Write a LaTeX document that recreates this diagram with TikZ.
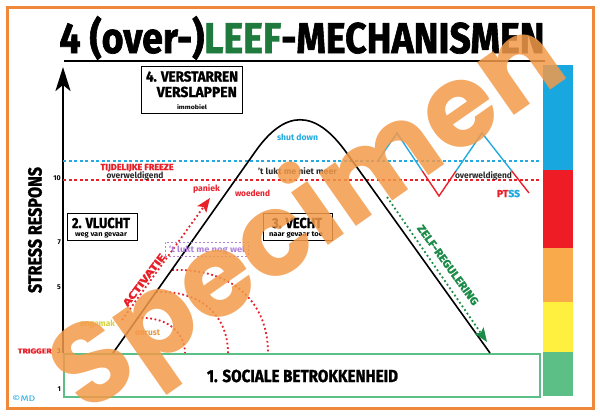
\documentclass[tikz,border=0pt]{standalone}
\usepackage{fontspec}
\setmainfont{Fira Sans}
\newfontfamily\heavy{Fira Sans}[FakeBold=1.6]
\newfontfamily\wmfont{Poppins}
\usetikzlibrary{arrows.meta}
\definecolor{bord}{HTML}{F0883A}
\definecolor{leef}{HTML}{1E7B3D}
\definecolor{rd}{HTML}{E8202A}
\definecolor{cy}{HTML}{22AAE1}
\definecolor{gr}{HTML}{1B8C47}
\definecolor{gbox}{HTML}{5BBF86}
\definecolor{pur}{HTML}{B084D6}
\definecolor{yel}{HTML}{D8D23C}
\definecolor{orn}{HTML}{E8963C}
\definecolor{wmc}{HTML}{F39A4A}
\definecolor{dk}{HTML}{2A2A2A}
\definecolor{barb}{HTML}{19A7E0}
\definecolor{barr}{HTML}{EE1C25}
\definecolor{baro}{HTML}{F9AA4B}
\definecolor{bary}{HTML}{FFEF3F}
\definecolor{barg}{HTML}{5BBF86}
\newsavebox\fitbox
\newcommand\fitw[2]{\sbox\fitbox{#2}\scalebox{\fpeval{#1/\the\wd\fitbox}}[1]{\usebox\fitbox}}
\newcommand\fs[1]{\fontsize{#1}{#1}\selectfont}
\tikzset{
  lbl/.style={inner sep=0pt, anchor=base, font=\bfseries},
  hv/.style={inner sep=0pt, anchor=base, font=\heavy\bfseries},
  frame/.style={draw, line width=1.3pt, inner sep=0pt},
  hdash/.style={line width=1.2pt, dash pattern=on 3pt off 2.5pt},
  rdots/.style={rd, line width=1.8pt, dash pattern=on 1.8pt off 2.6pt},
}
\begin{document}
\begin{tikzpicture}[x=1pt,y=-1pt]
\useasboundingbox (0,0) rectangle (600,416);
\fill[white] (0,0) rectangle (600,416);
\draw[bord, line width=3pt] (7,7) rectangle (593,408);
% title
\node[hv] (title) at (302,53) {\fs{43}\fitw{485}{4 (over-)\textcolor{leef}{LEEF}-MECHANISMEN}};
\coordinate (ul0) at (64,61); \coordinate (ul1) at (545,61);
\draw[line width=2.5pt] (ul0) -- (ul1);
% colour bar
\fill[barb] (543,65) rectangle (573,170);
\fill[barr] (543,170) rectangle (573,248);
\fill[baro] (543,248) rectangle (573,302);
\fill[bary] (543,302) rectangle (573,352);
\fill[barg] (543,352) rectangle (573,396);
% green box
\node[draw=gbox, line width=1.8pt, minimum width=476, minimum height=43, anchor=north west, inner sep=0pt] (soc) at (63,353) {};
\node[hv] (soct) at (302.5,382) {\fs{17.4}\fitw{191}{1. SOCIALE BETROKKENHEID}};
% axis
\coordinate (ax0) at (63,353); \coordinate (ax1) at (63,67);
\draw[line width=2.5pt, -{Stealth[length=24pt,width=15pt,inset=6pt]}] (ax0) -- (ax1);
\node[hv, rotate=90, anchor=center] (sr) at (35,230) {\fs{19}\fitw{126}{STRESS RESPONS}};
\foreach \v/\yy in {10/178,7/242,5/287,3/351,1/389}{
  \node[inner sep=0pt, anchor=east, font=\bfseries\fs{7}] (t\v) at (61,\yy) {\v};}
\node[inner sep=0pt, anchor=east, font=\heavy\bfseries\fs{7}, text=rd] (trig) at (52,351) {\fitw{34}{TRIGGER}};
\node[inner sep=0pt, anchor=west, font=\fs{8}, text=cy] (md) at (12,398) {\fitw{23}{©MD}};
% dashed levels
\coordinate (bl0) at (63,161); \coordinate (bl1) at (540,161);
\coordinate (rl0) at (63,180); \coordinate (rl1) at (540,180);
\draw[hdash, cy] (bl0) -- (bl1);
\draw[hdash, rd] (rl0) -- (rl1);
\node[hv, text=rd] (frz) at (137,170) {\fs{8.7}\fitw{73}{TIJDELIJKE FREEZE}};
\node[lbl, text=dk] (ov1) at (135,178) {\fs{8.5}\fitw{57}{overweldigend}};
% red arcs
\draw[rdots] (172,270) .. controls (230,268) and (268,300) .. (268,353);
\draw[rdots] (156,292) .. controls (200,290) and (228,315) .. (228,353);
\draw[rdots] (137,318) .. controls (170,316) and (185,335) .. (185,353);
% bell curve
\coordinate (b0) at (113,353); \coordinate (b1) at (255,152);
\coordinate (b2) at (346,152); \coordinate (b3) at (490,353);
\draw[line width=1.6pt] (b0) -- (b1) .. controls (285,109) and (315,109) .. (b2) -- (b3);
% zigzag
\draw[cy, line width=1.4pt] (377,162) -- (397,133) -- (422.3,171);
\draw[rd, line width=1.4pt] (422.3,171) -- (439,196) -- (456,171);
\draw[cy, line width=1.4pt] (456,171) -- (482,133) -- (511.8,171);
\draw[rd, line width=1.4pt] (511.8,171) -- (529,193);
\node[lbl, text=dk] (ov2) at (483.5,178) {\fs{8.5}\fitw{57}{overweldigend}};
\node[hv] (ptss) at (508.5,197) {\fs{10}\fitw{23}{\textcolor{rd}{PT}\textcolor{cy}{SS}}};
% arrows
\coordinate (ra0) at (122,320); \coordinate (ra1) at (210,198);
\draw[rdots, -{Stealth[length=14pt,width=11pt,inset=3pt]}] (ra0) -- (ra1);
\node[hv, anchor=center, rotate=53, text=rd] (act) at (144,280) {\fs{10}\fitw{63}{ACTIVATIE}};
\coordinate (ga0) at (387,197); \coordinate (ga1) at (487,342);
\draw[gr, line width=1.8pt, dash pattern=on 1.8pt off 2.6pt, -{Stealth[length=14pt,width=11pt,inset=3pt]}] (ga0) -- (ga1);
\node[hv, anchor=center, rotate=-54, text=gr] (zr) at (448,265) {\fs{11}\fitw{96}{ZELF-REGULERING}};
% labels on curve
\node[lbl, text=cy] (sd) at (297.5,140) {\fs{8.5}\fitw{41}{shut down}};
\node[lbl, text=dk] (nm) at (297.5,174) {\fs{8.5}\fitw{79}{'t lukt me niet meer}};
\node[lbl, text=rd] (pan) at (206.5,191) {\fs{8.5}\fitw{27}{paniek}};
\node[lbl, text=rd] (woe) at (252.5,196) {\fs{8.5}\fitw{35}{woedend}};
\node[draw=pur, line width=1pt, dash pattern=on 2pt off 2pt, minimum width=83, minimum height=14, inner sep=0pt] (nog) at (206.5,249) {};
\node[lbl, text=pur] (nogt) at (207,252) {\fs{8.5}\fitw{76}{'t lukt me nog wel}};
\node[lbl, text=yel] (ong) at (97.5,326) {\fs{8.5}\fitw{35}{ongemak}};
\node[lbl, text=orn] (onr) at (147.5,335) {\fs{8.5}\fitw{25}{onrust}};
% boxes
\node[frame, minimum width=101, minimum height=47, anchor=north west] (b4) at (141,66) {};
\node[hv] (b4a) at (192,81.5) {\fs{14.5}\fitw{92}{4. VERSTARREN}};
\node[hv, anchor=base east] (b4b) at (237,97) {\fs{14.5}\fitw{80}{VERSLAPPEN}};
\node[lbl] (b4c) at (192,109) {\fs{6}\fitw{30}{immobiel}};
\node[frame, minimum width=70, minimum height=27, anchor=north west] (b2) at (67,213) {};
\node[hv] (b2a) at (101,228) {\fs{14.5}\fitw{58}{2. VLUCHT}};
\node[lbl] (b2b) at (101,236.5) {\fs{7}\fitw{52}{weg van gevaar}};
\node[frame, minimum width=69, minimum height=27, anchor=north west] (b3) at (263,213) {};
\node[hv] (b3a) at (297,228) {\fs{14.5}\fitw{50}{3. VECHT}};
\node[lbl] (b3b) at (296,236.5) {\fs{7}\fitw{54}{naar gevaar toe}};
% watermark
\node[inner sep=0pt, rotate=35, text=wmc, opacity=0.85, font=\wmfont\bfseries\fs{115}] (spec) at (311,220) {Specimen};
\end{tikzpicture}
\end{document}
